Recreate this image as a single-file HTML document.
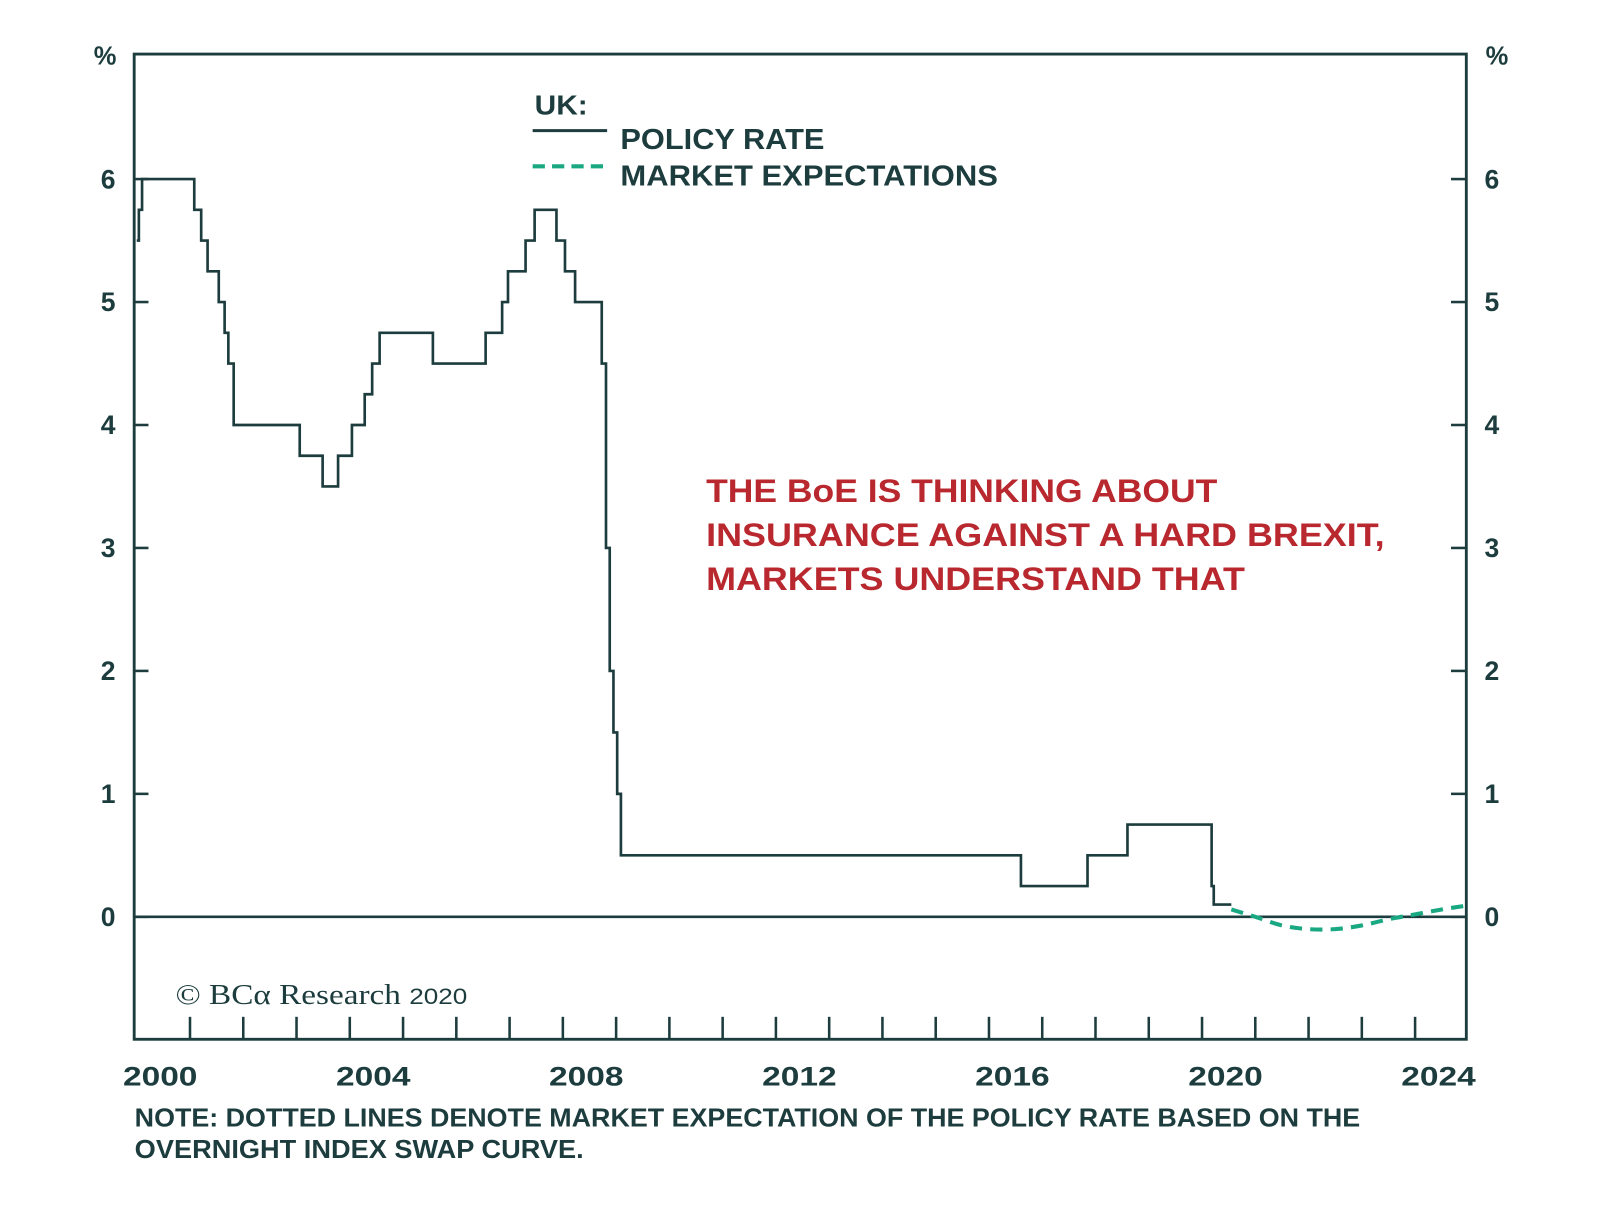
<!DOCTYPE html>
<html><head><meta charset="utf-8"><style>
html,body{margin:0;padding:0;background:#fff;}
svg{display:block;}
text{font-family:"Liberation Sans",sans-serif;font-weight:bold;fill:#1d3c3d;}
</style></head><body>
<svg id="chart" width="1600" height="1218" viewBox="0 0 1600 1218" xmlns="http://www.w3.org/2000/svg">
<g transform="scale(1.0204)">
<g id="axes"></g>
<g id="marks"></g>
<text x="103" y="63" font-size="25" text-anchor="middle">%</text>
<text x="1467" y="63" font-size="25" text-anchor="middle">%</text>
<g>
<text x="524" y="112" font-size="27" textLength="52" lengthAdjust="spacingAndGlyphs">UK:</text>
<line x1="522" y1="128" x2="595" y2="128" stroke="#1d3c3d" stroke-width="3"/>
<text x="608" y="146" font-size="28" textLength="200" lengthAdjust="spacingAndGlyphs">POLICY RATE</text>
<line x1="522" y1="163" x2="595" y2="163" stroke="#1aa882" stroke-width="4" stroke-dasharray="12,7"/>
<text x="608" y="182" font-size="28" textLength="370" lengthAdjust="spacingAndGlyphs">MARKET EXPECTATIONS</text>
</g>
<g>
<text x="692" y="492" font-size="32" style="fill:#b8282e" textLength="501" lengthAdjust="spacingAndGlyphs">THE BoE IS THINKING ABOUT</text>
<text x="692" y="535" font-size="32" style="fill:#b8282e" textLength="665" lengthAdjust="spacingAndGlyphs">INSURANCE AGAINST A HARD BREXIT,</text>
<text x="692" y="578" font-size="32" style="fill:#b8282e" textLength="528" lengthAdjust="spacingAndGlyphs">MARKETS UNDERSTAND THAT</text>
</g>
<text x="172" y="984" font-size="28" textLength="286" lengthAdjust="spacingAndGlyphs" style="font-family:'Liberation Serif',serif;font-weight:normal">© BCα Research <tspan font-size="22" style="font-family:'Liberation Sans',sans-serif">2020</tspan></text>
<text x="132" y="1104" font-size="25" textLength="1201" lengthAdjust="spacingAndGlyphs">NOTE: DOTTED LINES DENOTE MARKET EXPECTATION OF THE POLICY RATE BASED ON THE</text>
<text x="132" y="1135" font-size="25" textLength="440" lengthAdjust="spacingAndGlyphs">OVERNIGHT INDEX SWAP CURVE.</text>
</g>
</svg>
<script>
const policyDates=[2000.0,2000.04,2000.1,2001.08,2001.21,2001.33,2001.54,2001.65,2001.72,2001.82,2003.06,2003.49,2003.78,2004.04,2004.28,2004.42,2004.56,2005.56,2006.55,2006.86,2006.97,2007.3,2007.47,2007.88,2008.04,2008.23,2008.73,2008.81,2008.88,2008.95,2009.02,2009.09,2016.6,2017.85,2018.6,2020.18,2020.22,2020.55];
const policyValues=[5.5,5.75,6.0,5.75,5.5,5.25,5.0,4.75,4.5,4.0,3.75,3.5,3.75,4.0,4.25,4.5,4.75,4.5,4.75,5.0,5.25,5.5,5.75,5.5,5.25,5.0,4.5,3.0,2.0,1.5,1.0,0.5,0.25,0.5,0.75,0.25,0.1,0.1];
const marketDates=[2020.55,2021.0,2021.5,2022.0,2022.5,2023.0,2023.5,2024.0,2024.5,2024.95];
const marketValues=[0.06,0.0,-0.07,-0.1,-0.1,-0.07,-0.02,0.02,0.06,0.09];
const yTicks=[0,1,2,3,4,5,6];
const yearLabels=[2000,2004,2008,2012,2016,2020,2024];
const yearTicks=[2001,2002,2003,2004,2005,2006,2007,2008,2009,2010,2011,2012,2013,2014,2015,2016,2017,2018,2019,2020,2021,2022,2023,2024];

const L=131.5,R=1437,T=53,B=1018.5;
const x=t=>134+(t-2000)*52.2;
const y=v=>898.5-v*120.5;
const NS="http://www.w3.org/2000/svg";
function mk(tag,attrs,parent){const e=document.createElementNS(NS,tag);for(const k in attrs)e.setAttribute(k,attrs[k]);parent.appendChild(e);return e;}
const ax=document.getElementById('axes'),mg=document.getElementById('marks');
const C="#1d3c3d";
let f=mk('rect',{x:L,y:T,width:R-L,height:B-T,fill:'none',stroke:C,'stroke-width':2.8},ax);


let z=mk('line',{x1:L,x2:R,y1:y(0),y2:y(0),stroke:C,'stroke-width':2.5},ax);


yTicks.forEach(v=>{
  let a=mk('line',{x1:L,x2:L+14,y1:y(v),y2:y(v),stroke:C,'stroke-width':2.5},ax);
  
  
  let b=mk('line',{x1:R-15,x2:R,y1:y(v),y2:y(v),stroke:C,'stroke-width':2.5},ax);
  
  
  let t1=mk('text',{x:106,y:y(v)+9,'font-size':26,'text-anchor':'middle'},ax);t1.textContent=v;
  
  
  let t2=mk('text',{x:1462,y:y(v)+9,'font-size':26,'text-anchor':'middle'},ax);t2.textContent=v;
  
  
});
yearTicks.forEach(t=>{
  let l=mk('line',{x1:x(t),x2:x(t),y1:B,y2:B-22,stroke:C,'stroke-width':2.5},ax);
  
  
});
yearLabels.forEach(t=>{
  let tx=mk('text',{x:x(t)+23,y:1064,'font-size':26,'text-anchor':'middle',textLength:73,lengthAdjust:'spacingAndGlyphs'},ax);tx.textContent=t;
  
  
});
let d='';
policyDates.forEach((t,i)=>{
  if(i===0)d+='M'+x(t)+','+y(policyValues[i]);
  else d+='H'+x(t)+'V'+y(policyValues[i]);
});
d+='H'+x(policyDates[policyDates.length-1]);
let p=mk('path',{d:d,fill:'none',stroke:C,'stroke-width':2.6},mg);


let pts=marketDates.map((t,i)=>[x(t),y(marketValues[i])]);
let md='M'+pts[0][0]+','+pts[0][1];
for(let i=0;i<pts.length-1;i++){
  const p0=pts[Math.max(0,i-1)],p1=pts[i],p2=pts[i+1],p3=pts[Math.min(pts.length-1,i+2)];
  md+='C'+(p1[0]+(p2[0]-p0[0])/6)+','+(p1[1]+(p2[1]-p0[1])/6)+' '+(p2[0]-(p3[0]-p1[0])/6)+','+(p2[1]-(p3[1]-p1[1])/6)+' '+p2[0]+','+p2[1];
}
let m=mk('path',{d:md,fill:'none',stroke:'#1aa882','stroke-width':4,'stroke-dasharray':'12,8'},mg);


</script>
</body></html>
